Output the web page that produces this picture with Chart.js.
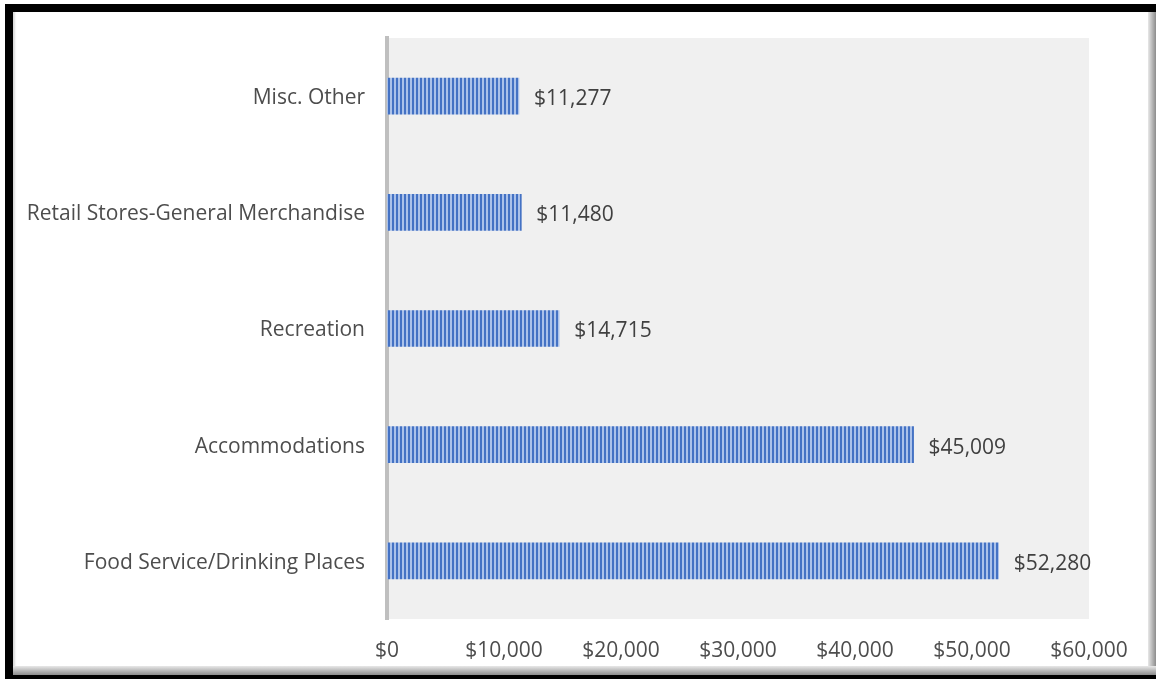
<!DOCTYPE html>
<html>
<head>
<meta charset="utf-8">
<script src="https://cdn.jsdelivr.net/npm/chart.js@4"></script>
<style>
  html, body { margin: 0; padding: 0; width: 1156px; height: 679px; overflow: hidden; background: #fff; }
  #frame {
    position: absolute; left: 5px; top: 4px; width: 1170px; height: 663px;
    border: 8px solid #000; box-sizing: content-box; background: #fff;
    box-shadow: inset 3px 0 2px -1px #d9d9d9;
  }
  #shadowR { position: absolute; left: 1148px; top: 12px; width: 8px; height: 663px;
    background: linear-gradient(to right, #e8e8e8, #8c8c8c); }
  #shadowB { position: absolute; left: 13px; top: 666px; width: 1143px; height: 9px;
    background: linear-gradient(to bottom, #e8e8e8, #8c8c8c); }
  #wrap { position: absolute; left: 0; top: 0; width: 1156px; height: 679px; }
</style>
</head>
<body>
<div id="frame"></div>
<div id="shadowR"></div>
<div id="shadowB"></div>
<div id="wrap"><canvas id="c" width="1156" height="679"></canvas></div>
<script>
const categories = ['Misc. Other', 'Retail Stores-General Merchandise', 'Recreation', 'Accommodations', 'Food Service/Drinking Places'];
const values = [11277, 11480, 14715, 45009, 52280];
const tickValues = [0, 10000, 20000, 30000, 40000, 50000, 60000];

const FONT = '"Open Sans", "Liberation Sans", sans-serif';
const fmt = v => '$' + v.toLocaleString('en-US');

// striped pattern
const pc = document.createElement('canvas');
pc.width = 4; pc.height = 4;
const px = pc.getContext('2d');
px.fillStyle = '#4472c4'; px.fillRect(0, 0, 4, 4);
px.fillStyle = '#abc2ea'; px.fillRect(2, 0, 2, 4);
const pattern = px.createPattern(pc, 'repeat');

const plotBg = {
  id: 'plotBg',
  beforeDraw(chart) {
    const { ctx, chartArea: a } = chart;
    ctx.save();
    ctx.fillStyle = '#f0f0f0';
    ctx.fillRect(a.left, a.top, a.right - a.left, a.bottom - a.top);
    ctx.restore();
  }
};
const valueLabels = {
  id: 'valueLabels',
  afterDatasetsDraw(chart) {
    const { ctx } = chart;
    const meta = chart.getDatasetMeta(0);
    ctx.save();
    ctx.font = '21px ' + FONT;
    ctx.fillStyle = '#404040';
    ctx.textAlign = 'left';
    ctx.textBaseline = 'middle';
    meta.data.forEach((bar, i) => {
      ctx.fillText(fmt(values[i]), bar.x + 15, bar.y + 3);
    });
    ctx.restore();
  }
};

new Chart(document.getElementById('c'), {
  type: 'bar',
  data: {
    labels: categories,
    datasets: [{ data: values, backgroundColor: pattern, borderWidth: 0, barThickness: 36 }]
  },
  options: {
    indexAxis: 'y',
    responsive: false,
    animation: false,
    layout: { padding: { left: 0, right: 67, top: 38, bottom: 0 } },
    plugins: { legend: { display: false }, tooltip: { enabled: false } },
    scales: {
      x: {
        min: 0, max: 60000,
        afterBuildTicks(s) { s.ticks = tickValues.map(v => ({ value: v })); },
        afterFit(s) { s.height = 60; },
        grid: { display: false, drawTicks: false },
        border: { display: false },
        ticks: { padding: 19, color: '#4d4d4d', font: { family: FONT, size: 21 }, callback: v => fmt(v), maxRotation: 0, autoSkip: false }
      },
      y: {
        afterFit(s) { s.width = 387; },
        grid: { display: false, drawTicks: false },
        border: { display: true, color: '#bfbfbf', width: 4 },
        ticks: { padding: 22, labelOffset: 2, color: '#4d4d4d', font: { family: FONT, size: 21 } }
      }
    }
  },
  plugins: [plotBg, valueLabels]
});
</script>
</body>
</html>
